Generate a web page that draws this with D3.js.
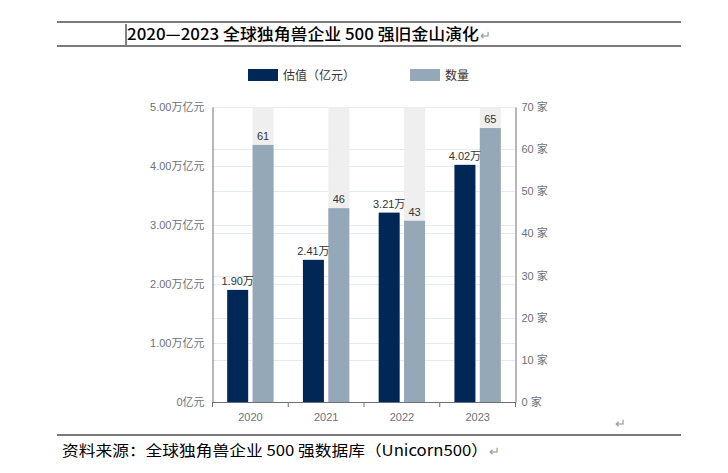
<!DOCTYPE html>
<html><head><meta charset="utf-8">
<script src="https://cdn.jsdelivr.net/npm/d3@7/dist/d3.min.js"></script>
<style>
html,body{margin:0;padding:0;background:#fff;}
svg{display:block;}
</style></head>
<body>
<svg id="c" width="728" height="473"></svg>
<script>
const categories = ["2020", "2021", "2022", "2023"];
const valuation = [1.90, 2.41, 3.21, 4.02];      // 万亿元
const counts = [61, 46, 43, 65];                // 家
const valuationLabels = ["1.90万", "2.41万", "3.21万", "4.02万"];
const leftTicks = [0, 1, 2, 3, 4, 5];
const leftTickLabels = ["0亿元", "1.00万亿元", "2.00万亿元", "3.00万亿元", "4.00万亿元", "5.00万亿元"];
const rightTicks = [0, 10, 20, 30, 40, 50, 60, 70];
const rightTickLabels = ["0 家", "10 家", "20 家", "30 家", "40 家", "50 家", "60 家", "70 家"];
const seriesNames = ["估值（亿元）", "数量"];
const titleText = "2020—2023 全球独角兽企业 500 强旧金山演化";
const sourceText = "资料来源：全球独角兽企业 500 强数据库（Unicorn500）";

const svg = d3.select("#c");
const navy = "#002755", grey = "#94a8b8", bg = "#efefef";
const axisColor = "#6E7079", gridColor = "#E6EAF3";
const font = "'Liberation Sans','Noto Sans CJK SC',sans-serif";
const cjk = "'Noto Sans CJK SC','Liberation Sans',sans-serif";

// document-style title and rules
svg.append("line").attr("x1", 57).attr("x2", 681).attr("y1", 22).attr("y2", 22).attr("stroke", "#7a7a7a").attr("stroke-width", 2);
svg.append("line").attr("x1", 57).attr("x2", 681).attr("y1", 46).attr("y2", 46).attr("stroke", "#7a7a7a").attr("stroke-width", 2);
svg.append("line").attr("x1", 126).attr("x2", 126).attr("y1", 24).attr("y2", 45).attr("stroke", "#000").attr("stroke-width", 1);
svg.append("text").attr("x", 127).attr("y", 40).attr("font-family", cjk).attr("font-size", 16).attr("font-weight", 500)
  .attr("fill", "#000").attr("textLength", 352).attr("lengthAdjust", "spacingAndGlyphs").text(titleText);
svg.append("text").attr("x", 480).attr("y", 40).attr("font-family", cjk).attr("font-size", 13).attr("fill", "#999").text("↵");

svg.append("line").attr("x1", 57).attr("x2", 681).attr("y1", 435).attr("y2", 435).attr("stroke", "#7a7a7a").attr("stroke-width", 2);
svg.append("text").attr("x", 62).attr("y", 456).attr("font-family", cjk).attr("font-size", 15)
  .attr("fill", "#000").attr("textLength", 426).attr("lengthAdjust", "spacingAndGlyphs").text(sourceText);
svg.append("text").attr("x", 489).attr("y", 456).attr("font-family", cjk).attr("font-size", 13).attr("fill", "#999").text("↵");
svg.append("text").attr("x", 615).attr("y", 428).attr("font-family", cjk).attr("font-size", 13).attr("fill", "#999").text("↵");

// chart
const x0 = 212.5, x1 = 515.5, yTop = 107, yBot = 402;
const x = d3.scaleBand().domain(categories).range([x0, x1]).paddingInner(0).paddingOuter(0);
const xi = d3.scaleBand().domain([0, 1]).range([0, x.bandwidth()]).paddingInner(0.173).paddingOuter(0.578);
const yL = d3.scaleLinear().domain([0, 5]).range([yBot, yTop]);
const yR = d3.scaleLinear().domain([0, 70]).range([yBot, yTop]);

const g = svg.append("g");
// grid lines
g.selectAll(".gl").data(leftTicks.slice(1)).enter().append("line")
  .attr("x1", x0).attr("x2", x1).attr("y1", d => Math.round(yL(d)) + 0.5).attr("y2", d => Math.round(yL(d)) + 0.5)
  .attr("stroke", gridColor).attr("stroke-width", 1);
g.selectAll(".gr").data(rightTicks.slice(1, -1)).enter().append("line")
  .attr("x1", x0).attr("x2", x1).attr("y1", d => Math.round(yR(d)) + 0.5).attr("y2", d => Math.round(yR(d)) + 0.5)
  .attr("stroke", gridColor).attr("stroke-width", 1);

// background for count series
g.selectAll(".bg").data(categories).enter().append("rect")
  .attr("x", d => x(d) + xi(1)).attr("width", xi.bandwidth())
  .attr("y", yTop).attr("height", yBot - yTop).attr("fill", bg);

// bars
g.selectAll(".bv").data(valuation).enter().append("rect")
  .attr("x", (d, i) => x(categories[i]) + xi(0)).attr("width", xi.bandwidth())
  .attr("y", d => yL(d)).attr("height", d => yBot - yL(d)).attr("fill", navy);
g.selectAll(".bc").data(counts).enter().append("rect")
  .attr("x", (d, i) => x(categories[i]) + xi(1)).attr("width", xi.bandwidth())
  .attr("y", d => yR(d)).attr("height", d => yBot - yR(d)).attr("fill", grey);

// bar labels
g.selectAll(".lv").data(valuation).enter().append("text")
  .attr("x", (d, i) => x(categories[i]) + xi(0) + xi.bandwidth() / 2).attr("y", d => yL(d) - 5)
  .attr("text-anchor", "middle").attr("font-family", font).attr("font-size", 11).attr("fill", "#333")
  .text((d, i) => valuationLabels[i]);
g.selectAll(".lc").data(counts).enter().append("text")
  .attr("x", (d, i) => x(categories[i]) + xi(1) + xi.bandwidth() / 2).attr("y", d => yR(d) - 5)
  .attr("text-anchor", "middle").attr("font-family", font).attr("font-size", 11).attr("fill", "#333")
  .text(d => d);

// axes
const axL = d3.axisLeft(yL).tickValues(leftTicks).tickSize(0).tickPadding(8).tickFormat((d, i) => leftTickLabels[i]);
const axR = d3.axisRight(yR).tickValues(rightTicks).tickSize(0).tickPadding(6).tickFormat((d, i) => rightTickLabels[i]);
const axB = d3.axisBottom(x).tickSize(0).tickPadding(11);

function style(sel) {
  sel.select(".domain").attr("stroke", axisColor);
  sel.selectAll("text").attr("font-family", font).attr("font-size", 11).attr("fill", axisColor);
}
svg.append("g").attr("transform", `translate(${x0},0)`).call(axL).call(style);
svg.append("g").attr("transform", `translate(${x1},0)`).call(axR).call(style);
const gb = svg.append("g").attr("transform", `translate(0,${yBot})`).call(axB).call(style);
// boundary ticks on x axis
gb.selectAll(".bt").data(categories.concat(["end"])).enter().append("line")
  .attr("x1", (d, i) => i < categories.length ? x(d) : x1).attr("x2", (d, i) => i < categories.length ? x(d) : x1)
  .attr("y1", 0).attr("y2", 5).attr("stroke", axisColor);

// legend
const lg = svg.append("g");
const legendItems = [{ name: seriesNames[0], color: navy, x: 248 }, { name: seriesNames[1], color: grey, x: 410 }];
legendItems.forEach(it => {
  lg.append("rect").attr("x", it.x).attr("y", 69).attr("width", 30).attr("height", 12).attr("fill", it.color);
  lg.append("text").attr("x", it.x + 35).attr("y", 79.5).attr("font-family", font).attr("font-size", 12)
    .attr("fill", "#333").text(it.name);
});
</script>
</body></html>
